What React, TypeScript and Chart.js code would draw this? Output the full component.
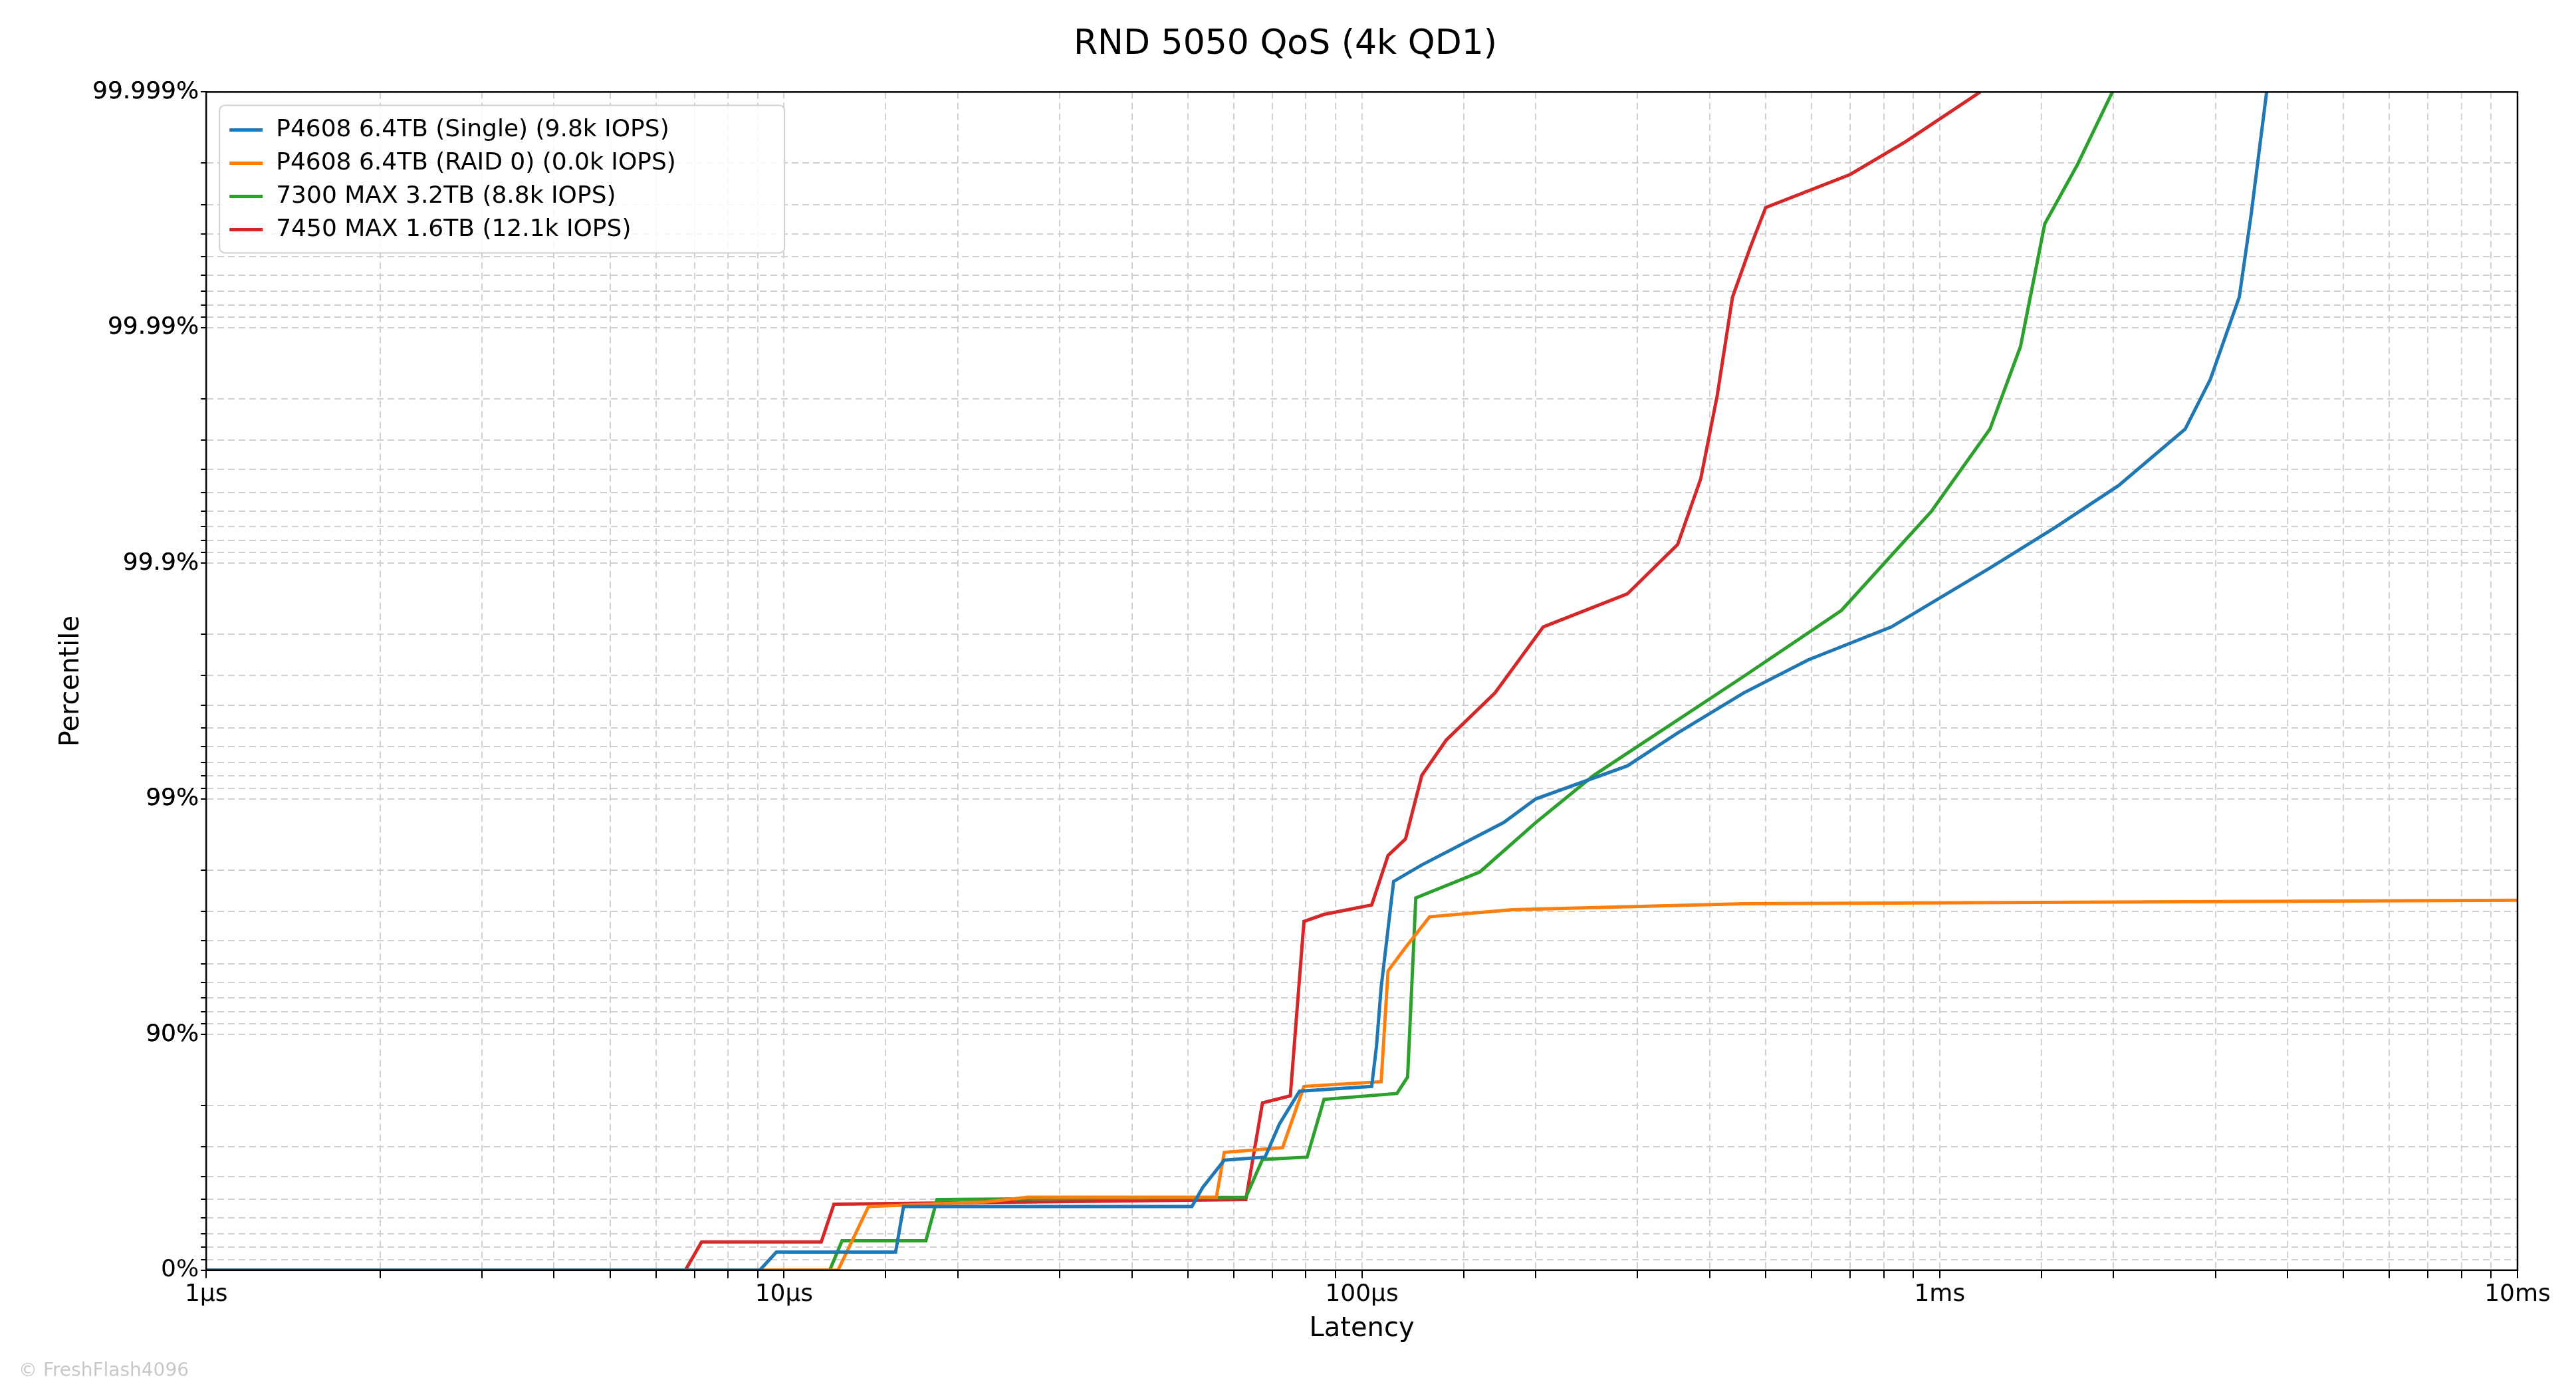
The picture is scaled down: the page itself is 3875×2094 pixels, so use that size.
import React, { useEffect, useRef } from "react";
import { Chart, registerables } from "chart.js";
Chart.register(...registerables);

// latency in µs, y in "nines" = -log10(1 - percentile)
const blueX = [1, 9.08, 9.7, 15.6, 16.1, 50.8, 53, 57.8, 68.0, 72, 78.0, 104, 106, 108, 113.5, 127, 176, 200, 288, 352, 458, 592, 825, 1222, 1580, 2040, 2660, 2940, 3300, 3460, 3680];
const blueY = [0, 0, 0.077, 0.077, 0.27, 0.27, 0.35, 0.467, 0.48, 0.62, 0.76, 0.78, 0.95, 1.2, 1.65, 1.72, 1.9, 2.0, 2.14, 2.28, 2.45, 2.59, 2.73, 2.98, 3.15, 3.33, 3.57, 3.78, 4.13, 4.48, 5.0];
const orangeX = [1, 12.4, 14.0, 22.4, 26.4, 56, 57.8, 72.9, 79.4, 108, 111, 119, 131, 182, 458, 10000];
const orangeY = [0, 0, 0.27, 0.29, 0.31, 0.31, 0.5, 0.52, 0.78, 0.8, 1.27, 1.37, 1.5, 1.53, 1.555, 1.57];
const greenX = [1, 12.0, 12.6, 17.6, 18.4, 63, 67.3, 80.4, 86, 115, 120, 124, 160, 200, 252, 458, 676, 967, 1222, 1380, 1520, 1730, 1990];
const greenY = [0, 0, 0.125, 0.125, 0.3, 0.31, 0.47, 0.48, 0.725, 0.75, 0.82, 1.58, 1.69, 1.9, 2.1, 2.52, 2.8, 3.22, 3.57, 3.92, 4.44, 4.69, 5.0];
const redX = [1, 6.75, 7.2, 11.6, 12.2, 63, 67.3, 75.2, 79.4, 86, 104, 111, 119, 127, 140, 170, 206, 288, 352, 386, 412, 438, 470, 500, 700, 874, 1175];
const redY = [0, 0, 0.12, 0.12, 0.28, 0.3, 0.71, 0.74, 1.48, 1.51, 1.55, 1.76, 1.83, 2.1, 2.25, 2.45, 2.73, 2.87, 3.08, 3.36, 3.71, 4.13, 4.34, 4.51, 4.65, 4.79, 5.0];

const seriesNames = ["P4608 6.4TB (Single) (9.8k IOPS)", "P4608 6.4TB (RAID 0) (0.0k IOPS)", "7300 MAX 3.2TB (8.8k IOPS)", "7450 MAX 1.6TB (12.1k IOPS)"];
const colors = ["#1f77b4", "#ff7f0e", "#2ca02c", "#d62728"];
const yTickLabels = ["0%", "90%", "99%", "99.9%", "99.99%", "99.999%"];
const xTickLabels: Record<number, string> = { 1: "1µs", 10: "10µs", 100: "100µs", 1000: "1ms", 10000: "10ms" };

const FONT = "'DejaVu Sans', sans-serif";

export default function App() {
  const ref = useRef<HTMLCanvasElement>(null);
  useEffect(() => {
    const mk = (xs: number[], ys: number[]) => xs.map((x, i) => ({ x, y: ys[i] }));
    const sets = [mk(blueX, blueY), mk(orangeX, orangeY), mk(greenX, greenY), mk(redX, redY)];
    const legendPlugin = {
      id: "boxLegend",
      afterDraw(chart: any) {
        const { ctx, chartArea } = chart;
        ctx.save();
        ctx.font = `36px ${FONT}`;
        const x0 = chartArea.left + 20, y0 = chartArea.top + 20;
        const lh = 50;
        const w = 850, h = lh * 4 + 22;
        ctx.fillStyle = "rgba(255,255,255,0.85)";
        ctx.strokeStyle = "#d0d0d0";
        ctx.lineWidth = 2;
        ctx.beginPath();
        (ctx as any).roundRect(x0, y0, w, h, 8);
        ctx.fill();
        ctx.stroke();
        seriesNames.forEach((n, i) => {
          const cy = y0 + 12 + lh * i + lh / 2;
          ctx.strokeStyle = colors[i];
          ctx.lineWidth = 5;
          ctx.beginPath();
          ctx.moveTo(x0 + 15, cy);
          ctx.lineTo(x0 + 65, cy);
          ctx.stroke();
          ctx.fillStyle = "#000";
          ctx.textBaseline = "middle";
          ctx.fillText(n, x0 + 85, cy);
        });
        ctx.font = `28px ${FONT}`;
        ctx.fillStyle = "#c8c8c8";
        ctx.textBaseline = "alphabetic";
        ctx.fillText("© FreshFlash4096", 28, 2070);
        ctx.restore();
      },
    };
    const yMinor: number[] = [];
    for (let d = 0; d < 5; d++) for (let k = 0; k <= 9; k++) yMinor.push(d - Math.log10(1 - k / 10));
    yMinor.push(5);
    const chart = new Chart(ref.current!, {
      type: "line",
      data: {
        datasets: sets.map((d, i) => ({
          label: seriesNames[i], data: d, borderColor: colors[i], backgroundColor: colors[i],
          borderWidth: 5, pointRadius: 0, tension: 0,
        })),
      },
      options: {
        animation: false, responsive: true, maintainAspectRatio: false,
        layout: { padding: { left: 80, right: 88, top: 26, bottom: 66 } },
        plugins: {
          legend: { display: false },
          tooltip: { enabled: false },
          title: { display: true, text: "RND 5050 QoS (4k QD1)", color: "#000", font: { size: 52, family: FONT, weight: "normal" }, padding: { top: 10, bottom: 40 } },
        },
        scales: {
          x: {
            type: "logarithmic", min: 1, max: 10000,
            title: { display: true, text: "Latency", color: "#000", font: { size: 40, family: FONT } },
            ticks: {
              color: "#000", font: { size: 36, family: FONT }, autoSkip: false, maxRotation: 0,
              callback: (v: any) => xTickLabels[Number(v)] ?? "",
            },
            grid: { color: "#d0d0d0", lineWidth: 2, tickLength: 12, tickColor: "#000" },
            border: { color: "#000", width: 2, dash: [10, 6] },
          },
          y: {
            type: "linear", min: 0, max: 5,
            afterBuildTicks: (s: any) => { s.ticks = yMinor.map((v) => ({ value: v })); },
            title: { display: true, text: "Percentile", color: "#000", font: { size: 40, family: FONT } },
            ticks: {
              color: "#000", font: { size: 36, family: FONT }, autoSkip: false,
              callback: (v: any) => {
                const r = Math.round(Number(v));
                return Math.abs(Number(v) - r) < 1e-6 ? yTickLabels[r] : "";
              },
            },
            grid: { color: "#d0d0d0", lineWidth: 2, tickLength: 8, tickColor: "#000" },
            border: { color: "#000", width: 2, dash: [10, 6] },
          },
        },
      } as any,
      plugins: [legendPlugin,
        { id: "frame", afterDraw(c: any) { const { ctx, chartArea: a } = c; ctx.save(); ctx.strokeStyle = "#000"; ctx.lineWidth = 2.5; ctx.strokeRect(a.left, a.top, a.right - a.left, a.bottom - a.top); ctx.restore(); } }],
    });
    return () => chart.destroy();
  }, []);
  return (
    <div style={{ position: "absolute", left: 0, top: 0, width: 3875, height: 2094, background: "#fff" }}>
      <canvas ref={ref} />
    </div>
  );
}
